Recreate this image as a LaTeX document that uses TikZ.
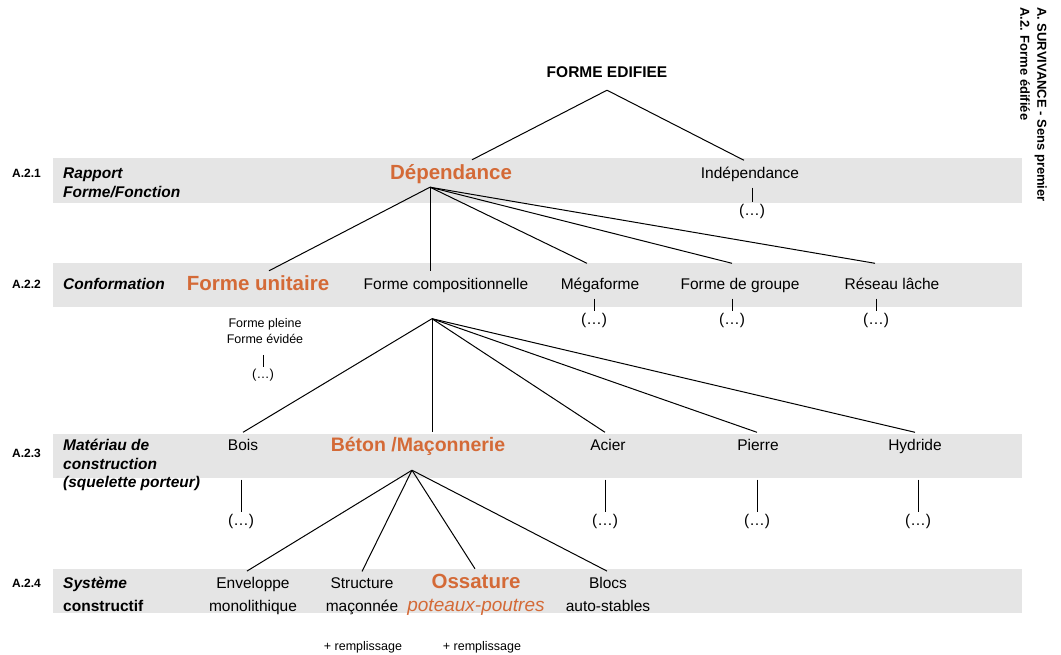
\documentclass[tikz,border=0pt]{standalone}
\usepackage{fontspec}
\setmainfont{Liberation Sans}
\usepackage{xcolor}
\usetikzlibrary{calc}

\definecolor{bandgray}{RGB}{229,229,229}
\definecolor{ocre}{RGB}{212,106,55}

\begin{document}
\begin{tikzpicture}[
			x=1pt, y=-1pt,
			band/.style={fill=bandgray},
			lvl/.style={font=\bfseries\fontsize{12}{14}\selectfont, anchor=base west, inner sep=0pt},
			rowhead/.style={font=\bfseries\itshape\fontsize{15.5}{19}\selectfont, anchor=base west, align=left, inner sep=0pt},
			pair/.style={font=\fontsize{15.5}{23}\selectfont, anchor=base, align=center, inner xsep=2pt, inner ysep=6pt},
			term/.style={pair, text height=12pt, text depth=3pt},
			key/.style={font=\bfseries\fontsize{20.5}{24}\selectfont, text=ocre, anchor=base, text height=15pt, text depth=4pt, inner xsep=2pt, inner ysep=4pt},
			etc/.style={font=\fontsize{15.5}{18}\selectfont, anchor=base, text height=12pt, text depth=3pt, inner sep=1pt},
			note/.style={font=\fontsize{12.5}{16}\selectfont, anchor=base, align=center, inner sep=1pt},
			link/.style={line width=1pt, black}
		]
		\useasboundingbox (0,0) rectangle (1061,654);

		% Bands
		\foreach \ytop/\ybot in {158/203, 263/307, 434/478, 569/613}
			\fill[band] (53,\ytop) rectangle (1022,\ybot);

		% Title on the right
		\node[rotate=-90, anchor=north west, align=left, inner sep=0pt, font=\bfseries\fontsize{13}{17}\selectfont] (title) at (1047,7) {A. SURVIVANCE - Sens premier\\A.2. Forme édifiée};

		% Root
		\node[term, font=\bfseries\fontsize{15.5}{18}\selectfont] (top) at (607,77.5) {FORME EDIFIEE};
		\coordinate (apex) at ([yshift=-3.5pt]top.south);

		% A.2.1 (multi-line nodes sit on their last line)
		\node[lvl] (l1) at (12,177.5) {A.2.1};
		\node[rowhead] (h1) at (63,197.5) {Rapport\\Forme/Fonction};
		\node[key] (dep) at (451,179) {Dépendance};
		\node[term] (indep) at (750,178.5) {Indépendance};
		\node[etc] (indepetc) at (752,215.5) {(…)};

		% A.2.2
		\node[lvl] (l2) at (12,288.5) {A.2.2};
		\node[rowhead] (h2) at (63,289.5) {Conformation};
		\node[key] (unitaire) at (258,290) {Forme unitaire};
		\node[term] (compo) at (446,289.5) {Forme compositionnelle};
		\node[term] (mega) at (600,289.5) {Mégaforme};
		\node[term] (groupe) at (740,289.5) {Forme de groupe};
		\node[term] (reseau) at (892,289.5) {Réseau lâche};
		\node[etc] (megaetc) at (594,324) {(…)};
		\node[etc] (groupeetc) at (732,324) {(…)};
		\node[etc] (reseauetc) at (876,324) {(…)};
		\node[note] (pleine) at (265,343.5) {Forme pleine\\Forme évidée};
		\node[etc, font=\fontsize{13}{16}\selectfont, text height=10pt, text depth=2.5pt] (pleineetc) at (263,378) {(…)};

		% A.2.3
		\node[lvl] (l3) at (12,457) {A.2.3};
		\node[rowhead, font=\bfseries\itshape\fontsize{15.5}{18.5}\selectfont] (h3) at (63,487.5) {Matériau de\\construction\\(squelette porteur)};
		\node[term] (bois) at (243,450.5) {Bois};
		\node[key, font=\bfseries\fontsize{19.5}{24}\selectfont] (beton) at (418,451) {Béton /Maçonnerie};
		\node[term] (acier) at (608,450.5) {Acier};
		\node[term] (pierre) at (758,450.5) {Pierre};
		\node[term] (hydride) at (915,450.5) {Hydride};
		\node[etc] (boisetc) at (241,525) {(…)};
		\node[etc] (acieretc) at (605,525) {(…)};
		\node[etc] (pierreetc) at (757,525) {(…)};
		\node[etc] (hydrideetc) at (918,525) {(…)};

		% A.2.4
		\node[lvl] (l4) at (12,587) {A.2.4};
		\node[rowhead, font=\bfseries\itshape\fontsize{15.5}{23}\selectfont] (h4) at (63,611.5) {Système\\\upshape constructif};
		\node[pair] (env) at (253,611.5) {Enveloppe\\monolithique};
		\node[pair] (struct) at (362,611.5) {Structure\\maçonnée};
		\node[key] (oss) at (476,588) {Ossature};
		\node[note, font=\itshape\fontsize{19}{22}\selectfont, text=ocre] (ossbis) at (476,611) {poteaux-poutres};
		\node[pair] (blocs) at (608,611.5) {Blocs\\auto-stables};
		\node[note] (rempl1) at (363,650) {+ remplissage};
		\node[note] (rempl2) at (482,650) {+ remplissage};

		% Fan points
		\coordinate (depfan) at ([xshift=-21pt]dep.south);
		\coordinate (compofan) at ([xshift=-14pt,yshift=-20pt]compo.south);
		\coordinate (betonfan) at ([xshift=-6pt,yshift=-11pt]beton.south);

		% Links
		\draw[link] (apex) -- ([xshift=21pt]dep.north);
		\draw[link] (apex) -- ([xshift=-6pt]indep.north);
		\foreach \n/\dx/\dy in {unitaire/11/0, compo/-16/0, mega/-13/8, groupe/-8/8, reseau/-17/8}
			\draw[link] (depfan) -- ([xshift=\dx pt, yshift=\dy pt]\n.north);
		\foreach \n/\dx in {bois/0, beton/14, acier/-3, pierre/-1, hydride/0}
			\draw[link] (compofan) -- ([xshift=\dx pt]\n.north);
		\foreach \n/\dx in {env/-6, struct/0, oss/-1, blocs/-1}
			\draw[link] (betonfan) -- ([xshift=\dx pt]\n.north);

		% Ticks
		\draw[link] (indep.south -| indepetc.north) -- (indepetc.north);
		\foreach \n in {mega, groupe, reseau}
			\draw[link] (\n.south -| \n etc.north) -- (\n etc.north);
		\foreach \n in {bois, acier, pierre, hydride}
			\draw[link] ($(\n.south -| \n etc.north)+(0,20)$) -- (\n etc.north);
		\draw[link] ($(pleine.south -| pleineetc.north)+(0,10)$) -- (pleineetc.north);

	\end{tikzpicture}
\end{document}
